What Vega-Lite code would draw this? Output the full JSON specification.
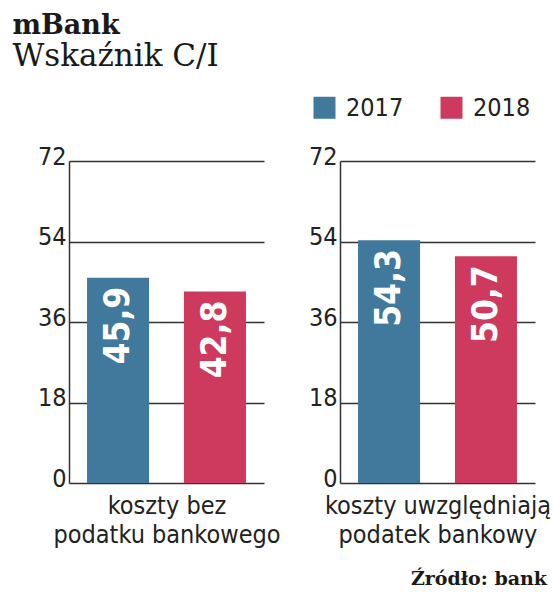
{
  "$schema": "https://vega.github.io/schema/vega-lite/v6.json",
  "padding": {"left": 12, "top": 12, "right": 0, "bottom": 0},
  "background": "white",
  "title": {
    "text": "mBank",
    "subtitle": "Wskaźnik C/I",
    "anchor": "start",
    "dx": -25,
    "font": "DejaVu Serif",
    "fontSize": 27,
    "fontWeight": "bold",
    "color": "#1a1a1a",
    "subtitleFont": "DejaVu Serif",
    "subtitleFontSize": 31,
    "subtitleColor": "#1a1a1a",
    "subtitlePadding": 2,
    "offset": 22
  },
  "data": {
    "values": [
      {"kategoria": "bez", "rok": "2017", "wartosc": 45.9},
      {"kategoria": "bez", "rok": "2018", "wartosc": 42.8},
      {"kategoria": "z", "rok": "2017", "wartosc": 54.3},
      {"kategoria": "z", "rok": "2018", "wartosc": 50.7}
    ]
  },
  "spacing": 27,
  "hconcat": [
    {
      "width": 195,
      "height": 322,
      "transform": [{"filter": "datum.kategoria == 'bez'"}],
      "encoding": {
        "x": {
          "field": "rok",
          "type": "nominal",
          "scale": {"paddingInner": 0.36, "paddingOuter": 0.186},
          "axis": {"labels": false, "ticks": false, "domain": false, "grid": false, "title": ["koszty bez", "podatku bankowego"]}
        },
        "y": {
          "field": "wartosc",
          "type": "quantitative",
          "scale": {"domain": [0, 72], "nice": false},
          "axis": {"values": [0, 18, 36, 54, 72], "title": null}
        }
      },
      "layer": [
        {
          "mark": {"type": "bar"},
          "encoding": {
            "color": {
              "field": "rok",
              "type": "nominal",
              "scale": {"domain": ["2017", "2018"], "range": ["#40799b", "#cd3a5d"]},
              "legend": {
                "orient": "none",
                "legendX": 243,
                "legendY": -66,
                "direction": "horizontal",
                "title": null,
                "symbolType": "square",
                "symbolSize": 484,
                "symbolStrokeWidth": 0,
                "symbolOpacity": 1,
                "labelFont": "DejaVu Sans Condensed, DejaVu Sans",
                "labelFontSize": 25,
                "labelColor": "#222222",
                "labelOffset": 9,
                "columnPadding": 35
              }
            }
          }
        },
        {
          "mark": {"type": "text", "angle": 270, "align": "right", "baseline": "middle", "dx": -9, "font": "DejaVu Sans Condensed, DejaVu Sans", "fontWeight": "bold", "fontSize": 35, "fill": "white"},
          "encoding": {"text": {"field": "wartosc", "type": "quantitative", "format": ".1f"}}
        }
      ]
    },
    {
      "width": 195,
      "height": 322,
      "title": {
        "text": "Źródło: bank",
        "orient": "bottom",
        "anchor": "end",
        "frame": "group",
        "dx": 12,
        "offset": 23,
        "font": "DejaVu Serif",
        "fontSize": 19,
        "fontWeight": "bold",
        "color": "#1a1a1a"
      },
      "transform": [{"filter": "datum.kategoria == 'z'"}],
      "encoding": {
        "x": {
          "field": "rok",
          "type": "nominal",
          "scale": {"paddingInner": 0.36, "paddingOuter": 0.186},
          "axis": {"labels": false, "ticks": false, "domain": false, "grid": false, "title": ["koszty uwzględniają", "podatek bankowy"]}
        },
        "y": {
          "field": "wartosc",
          "type": "quantitative",
          "scale": {"domain": [0, 72], "nice": false},
          "axis": {"values": [0, 18, 36, 54, 72], "title": null}
        }
      },
      "layer": [
        {
          "mark": {"type": "bar"},
          "encoding": {
            "color": {"field": "rok", "type": "nominal"}
          }
        },
        {
          "mark": {"type": "text", "angle": 270, "align": "right", "baseline": "middle", "dx": -9, "font": "DejaVu Sans Condensed, DejaVu Sans", "fontWeight": "bold", "fontSize": 35, "fill": "white"},
          "encoding": {"text": {"field": "wartosc", "type": "quantitative", "format": ".1f"}}
        }
      ]
    }
  ],
  "config": {
    "view": {"stroke": null},
    "locale": {"number": {"decimal": ",", "thousands": " ", "grouping": [3], "currency": ["", " zł"]}},
    "axisY": {
      "ticks": false,
      "labelPadding": 3,
      "labelFont": "DejaVu Sans Condensed, DejaVu Sans",
      "labelFontSize": 25,
      "labelColor": "#222222",
      "labelBaseline": "alphabetic",
      "labelOffset": 3,
      "domainColor": "#333333",
      "domainWidth": 1.5,
      "gridColor": "#333333",
      "gridWidth": 1.5,
      "gridOpacity": 1
    },
    "axisX": {
      "titleFont": "DejaVu Sans Condensed, DejaVu Sans",
      "titleFontSize": 25,
      "titleFontWeight": "normal",
      "titleColor": "#222222",
      "titleLineHeight": 29,
      "titlePadding": 10
    }
  }
}
